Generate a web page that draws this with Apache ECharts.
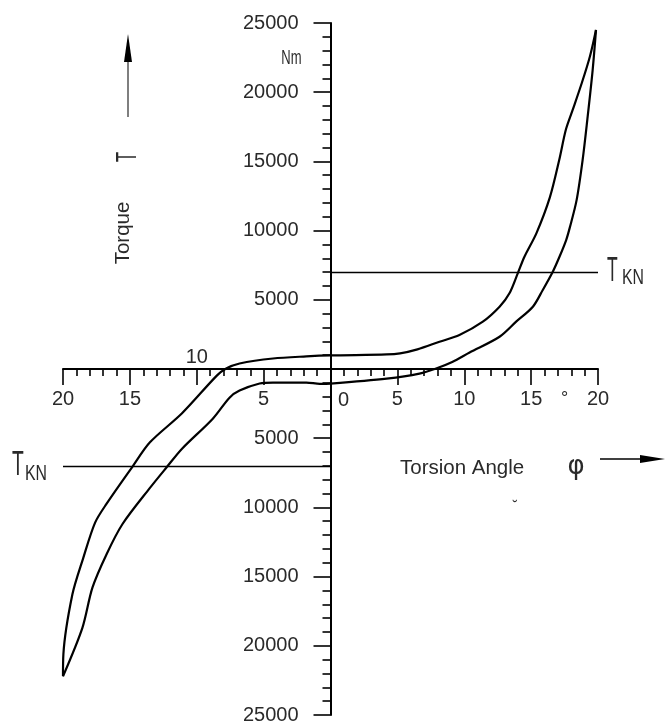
<!DOCTYPE html>
<html><head><meta charset="utf-8">
<script src="https://cdn.jsdelivr.net/npm/echarts@6/dist/echarts.min.js"></script>
<style>html,body{margin:0;padding:0;background:#fff}#c{width:665px;height:722px}</style>
</head><body><div id="c"></div>
<script>
// Torsion angle (deg) / torque (Nm) hysteresis loop
const upperBranch = [
  [-20.0, -22200], [-19.97, -20600], [-19.3, -16300], [-18.5, -13700], [-17.6, -11100],
  [-16.75, -9750], [-14.8, -7050], [-13.5, -5300], [-11.1, -3200], [-8.5, -480],
  [-7.8, 40], [-6.8, 400], [-4.3, 760], [-1.8, 910], [0, 980], [4.2, 1050], [5.2, 1130],
  [6.5, 1420], [8.15, 1970], [9.64, 2460], [11.39, 3420], [12.64, 4500], [13.38, 5470],
  [14.0, 6910], [14.5, 8110], [15.4, 9820], [16.4, 12400], [17.1, 15100], [17.6, 17300],
  [18.1, 18700], [18.8, 20700], [19.4, 22600], [19.85, 24500]
];
const lowerBranch = [
  [19.85, 24500], [19.6, 21600], [19.2, 18000], [18.85, 15100], [18.4, 12200], [17.9, 10250],
  [17.62, 9320], [17.12, 8110], [16.62, 7030], [15.87, 5710], [15.13, 4500], [13.88, 3420],
  [12.64, 2330], [10.4, 1190], [9.1, 510], [7.9, 40], [6.65, -330], [4.2, -690], [0, -1050],
  [-0.8, -1070], [-1.8, -980], [-4.3, -980], [-5.3, -1050], [-6.8, -1560], [-7.55, -2070],
  [-8.8, -3590], [-11.1, -5760], [-12.25, -7100], [-13.5, -8590], [-15.55, -11200],
  [-16.75, -13400], [-17.8, -15800], [-18.55, -18700], [-20.0, -22200]
];
const tknLevels = [7000, -7000];
const xRange = [-20, 20];
const yRange = [-25000, 25000];
const xStep = 5, yStep = 5000;

const W = 665, H = 722;
const GRID = {left: 63, right: 67, top: 23, bottom: 7};
const gridW = W - GRID.left - GRID.right;
const gridH = H - GRID.top - GRID.bottom;
// place the axes through the origin of the data
const xAxisOffset = -gridH * (0 - yRange[0]) / (yRange[1] - yRange[0]);
const yAxisOffset = -gridW * (0 - xRange[0]) / (xRange[1] - xRange[0]);

const SANS = '"Liberation Sans",Arial,Helvetica,sans-serif';
const LABEL_COLOR = '#2a2a2a';

const chart = echarts.init(document.getElementById('c'), null, {renderer: 'canvas'});
const lineStyle = {color: '#000', width: 2.2};
const option = {
  animation: false,
  backgroundColor: '#fff',
  grid: Object.assign({containLabel: false, outerBoundsMode: 'none'}, GRID),
  xAxis: {
    type: 'value', min: xRange[0], max: xRange[1], interval: xStep,
    position: 'bottom', offset: xAxisOffset,
    axisLine: {onZero: false, lineStyle: {color: '#000', width: 2}},
    axisTick: {show: true, length: 16, lineStyle: {color: '#000', width: 1.6}},
    minorTick: {show: true, splitNumber: 5, length: 7, lineStyle: {color: '#000', width: 1.6}},
    splitLine: {show: false},
    axisLabel: {margin: 20, color: LABEL_COLOR, fontFamily: SANS, fontSize: 20,
      formatter: v => (v === 0 || v === -10) ? '' : String(Math.abs(v))}
  },
  yAxis: {
    type: 'value', min: yRange[0], max: yRange[1], interval: yStep,
    position: 'left', offset: yAxisOffset,
    axisLine: {onZero: false, lineStyle: {color: '#000', width: 2}},
    axisTick: {show: true, length: 17, lineStyle: {color: '#000', width: 1.6}},
    minorTick: {show: true, splitNumber: 5, length: 8, lineStyle: {color: '#000', width: 1.6}},
    splitLine: {show: false},
    axisLabel: {margin: 32, color: LABEL_COLOR, fontFamily: SANS, fontSize: 20,
      formatter: v => v === 0 ? '' : String(Math.abs(v))}
  },
  series: [
    {type: 'line', name: 'upper', data: upperBranch, showSymbol: false, smooth: 0.3,
     lineStyle: lineStyle, z: 3,
     markLine: {silent: true, symbol: 'none', label: {show: false},
       lineStyle: {color: '#000', width: 1.3, type: 'solid'},
       data: [
         [{coord: [0, tknLevels[0]]}, {coord: [xRange[1], tknLevels[0]]}],
         [{coord: [xRange[0], tknLevels[1]]}, {coord: [0, tknLevels[1]]}]
       ]}},
    {type: 'line', name: 'lower', data: lowerBranch, showSymbol: false, smooth: 0.3,
     lineStyle: lineStyle, z: 3}
  ]
};
chart.setOption(option);

const P = (x, y) => chart.convertToPixel({gridIndex: 0}, [x, y]);
function txt(x, y, text, size, align, extra, family) {
  return Object.assign({type: 'text', x: x, y: y, z: 10,
    style: {text: text, fontSize: size, fontFamily: family || SANS, fill: LABEL_COLOR,
      align: align || 'center', verticalAlign: 'middle',
      textAlign: align || 'center', textVerticalAlign: 'middle'}}, extra || {});
}
const o = P(0, 0);
const m10 = P(-10, 0);
const p175 = P(17.5, 0);
const nm = P(0, 22400);
const tR = P(xRange[1], tknLevels[0]);
const tL = P(xRange[0], tknLevels[1]);

const g = [
  txt(o[0] + 13, o[1] + 31, '0', 20),
  txt(m10[0], m10[1] - 12, '10', 20),
  txt(p175[0], p175[1] + 30, '°', 18),
  txt(nm[0] - 29, nm[1], 'Nm', 20, 'right', {scaleX: 0.65}),
  // T_KN right
  txt(tR[0] + 9, tR[1] - 1, 'T', 35, 'left', {scaleX: 0.5}),
  txt(tR[0] + 24, tR[1] + 6, 'KN', 22, 'left', {scaleX: 0.72}),
  // T_KN left
  txt(tL[0] - 51, tL[1] - 1, 'T', 35, 'left', {scaleX: 0.55}),
  txt(tL[0] - 38, tL[1] + 8, 'KN', 22, 'left', {scaleX: 0.72}),
  // axis titles
  txt(123, 233, 'Torque', 20.5, 'center', {rotation: Math.PI / 2}),
  txt(128, 157, 'T', 30, 'center', {rotation: Math.PI / 2, scaleX: 0.55}),
  txt(400, 468, 'Torsion Angle', 20.5, 'left'),
  txt(576, 467, 'φ', 26, 'center', null, '"DejaVu Sans",sans-serif'),
  txt(515, 507, '˘', 14, 'center'),
  // arrows
  {type: 'line', z: 10, shape: {x1: 128, y1: 117, x2: 128, y2: 58}, style: {stroke: '#555', lineWidth: 1.5}},
  {type: 'polygon', z: 10, shape: {points: [[128, 34], [124, 62], [132, 62]]}, style: {fill: '#000'}},
  {type: 'line', z: 10, shape: {x1: 600, y1: 459, x2: 645, y2: 459}, style: {stroke: '#000', lineWidth: 1.5}},
  {type: 'polygon', z: 10, shape: {points: [[665, 459], [640, 455], [640, 463]]}, style: {fill: '#000'}}
];
chart.setOption({graphic: {elements: g}});
</script>
</body></html>
